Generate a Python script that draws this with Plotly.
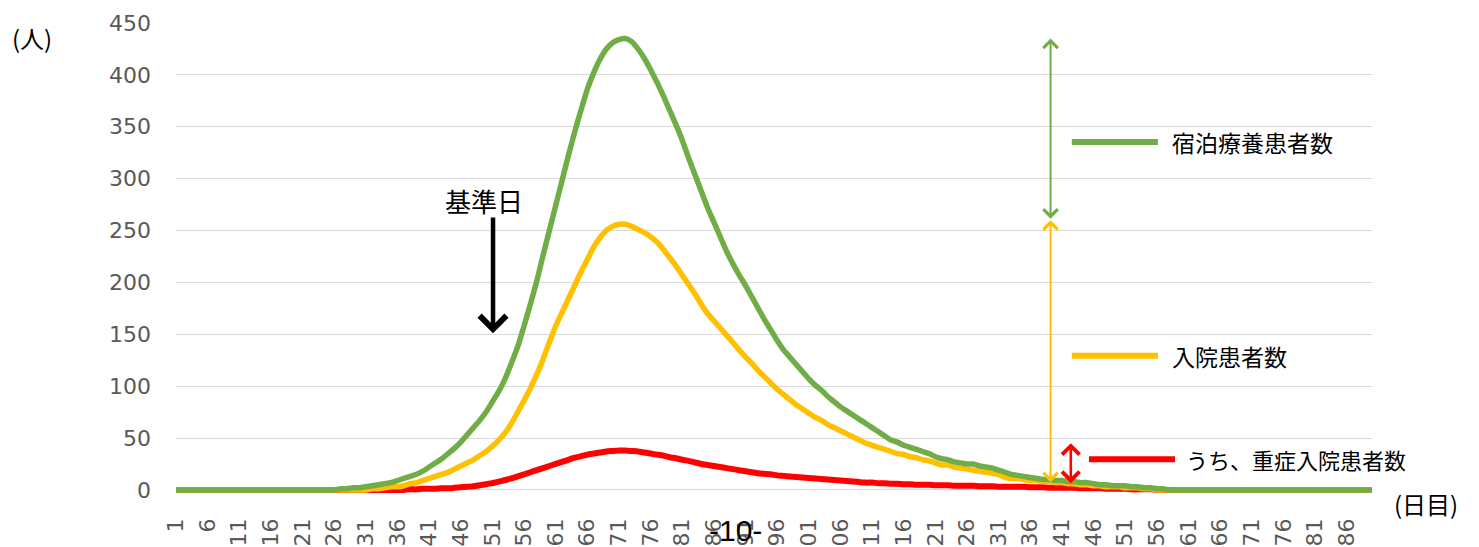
import plotly.graph_objects as go

# Day index (category axis) and labelled ticks every 5 days
days = list(range(1, 191))
tick_days = list(range(1, 190, 5))
y_ticks = list(range(0, 451, 50))

# 宿泊療養患者数 (green line)
lodging = (
    [0] * 26
    + [1, 1, 2, 2, 3, 4, 5, 6, 7, 9, 11, 13, 15, 18]
    + [22, 26, 30, 35, 40, 46, 53, 60, 67, 75]
    + [85, 95, 107, 122, 138, 158, 179, 201, 226, 250]
    + [274, 298, 322, 345, 366, 386, 402, 415, 425, 431]
    + [434, 435, 432, 425, 416, 405, 393, 380, 366, 352]
    + [337, 320, 304, 288, 272, 258, 244, 230, 218, 207]
    + [197, 186, 175, 164, 154, 144, 135, 128, 121, 114]
    + [107, 101, 96, 90, 85, 80, 76, 72, 68, 64]
    + [60, 56, 52, 48, 46, 43, 41, 39, 37, 35]
    + [32, 30, 29, 27, 26, 25, 25, 23, 22, 21]
    + [19, 17, 15, 14, 13, 12, 11, 10, 10, 9]
    + [9, 8, 8, 7, 7, 6, 5, 5, 4, 4]
    + [4, 3, 3, 2, 2, 1, 1, 0, 0, 0]
    + [0] * 30
)

# 入院患者数 (yellow line)
inpatient = (
    [0] * 31
    + [1, 1, 2, 3, 3, 4, 6, 7, 9]
    + [11, 13, 15, 17, 20, 23, 26, 29, 33, 37]
    + [42, 48, 55, 64, 75, 86, 98, 111, 126, 142]
    + [158, 171, 184, 197, 210, 222, 234, 243, 250, 254]
    + [256, 256, 254, 251, 248, 244, 239, 232, 224, 216]
    + [207, 198, 189, 179, 170, 163, 156, 149, 142, 135]
    + [128, 122, 115, 109, 103, 97, 92, 87, 82, 78]
    + [74, 70, 67, 63, 60, 57, 54, 51, 48, 45]
    + [43, 41, 39, 37, 35, 34, 32, 31, 29, 28]
    + [26, 24, 24, 22, 21, 20, 19, 18, 17, 16]
    + [15, 12, 11, 11, 10, 9, 9, 8, 8, 7]
    + [7, 6, 6, 5, 5, 4, 4, 3, 3, 3]
    + [2, 2, 2, 1, 1, 0, 0, 0, 0, 0]
    + [0] * 30
)

# うち、重症入院患者数 (red line)
severe = (
    [0] * 37
    + [0.5, 0.5, 1]
    + [1, 1, 1.5, 1.5, 2, 2.5, 3, 3.5, 4.5, 5.5]
    + [6.5, 8, 9.5, 11, 13, 15, 17, 19, 21, 23]
    + [25, 27, 29, 31, 32.5, 34, 35, 36, 37, 37.5]
    + [38, 38, 37.5, 37, 36, 35, 34, 33, 31.5, 30.5]
    + [29, 28, 26.5, 25, 24, 23, 22, 21, 20, 19]
    + [18, 17, 16, 15.5, 15, 14, 13.5, 13, 12.5, 12]
    + [11.5, 11, 10.5, 10, 9.5, 9, 8.5, 8, 7.5, 7]
    + [7, 6.5, 6.5, 6, 6, 5.5, 5.5, 5, 5, 5]
    + [4.5, 4.5, 4.5, 4, 4, 4, 4, 3.5, 3.5, 3.5]
    + [3, 3, 3, 3, 3, 2.5, 2.5, 2.5, 2, 2]
    + [2, 2, 2, 1.5, 1.5, 1.5, 1.5, 1, 1, 1]
    + [1, 0.5, 0.5, 0.5, 0.5, 0, 0, 0, 0, 0]
    + [0] * 30
)

series_names = ["宿泊療養患者数", "入院患者数", "うち、重症入院患者数"]
GREEN, YELLOW, RED = "#70AD47", "#FFC000", "#FF0000"

JP = "Noto Sans CJK JP"
NUM = "DejaVu Sans"

fig = go.Figure()
for vals, col, name, w in [
    (severe, RED, series_names[2], 6),
    (inpatient, YELLOW, series_names[1], 5.5),
    (lodging, GREEN, series_names[0], 5.5),
]:
    fig.add_trace(go.Scatter(
        x=days, y=vals, mode="lines", name=name,
        line=dict(color=col, width=w, shape="spline", smoothing=0.5),
        hoverinfo="skip",
    ))

# Bracket arrows showing each group's size at the peak
arrow_day = 139.2
severe_arrow_day = 142.4
annotations = []


def bracket(x, y_top, y_bottom, color, width, size):
    return dict(
        x=x, y=y_top, ax=x, ay=y_bottom, xref="x", yref="y", axref="x", ayref="y",
        text="", showarrow=True, arrowside="end+start",
        arrowhead=4, startarrowhead=4, arrowwidth=width, arrowsize=size,
        startarrowsize=size, arrowcolor=color, standoff=0, startstandoff=0,
    )


annotations.append(bracket(arrow_day, max(lodging), max(inpatient) + 4, GREEN, 2, 1.4))
annotations.append(bracket(arrow_day, max(inpatient) + 4, 6, YELLOW, 2, 1.4))
annotations.append(bracket(severe_arrow_day, 45, 5, RED, 2.6, 1.3))

# Reference-day marker
annotations.append(dict(
    x=51.1, y=151, ax=51.1, ay=264, xref="x", yref="y", axref="x", ayref="y",
    text="", showarrow=True, arrowhead=4, arrowwidth=4.5, arrowsize=1.15,
    arrowcolor="#000000", standoff=0,
))
annotations.append(dict(
    x=0.2575, y=0.623, xref="paper", yref="paper", text="基準日", showarrow=False,
    font=dict(family=JP, size=26, color="#000000"), xanchor="center", yanchor="middle",
))

# Legend drawn next to the arrows
legend_rows = [
    (series_names[0], GREEN, 0.749, 0.821, 0.831, 0.747, 23),
    (series_names[1], YELLOW, 0.749, 0.821, 0.831, 0.292, 23),
    (series_names[2], RED, 0.7634, 0.8353, 0.843, 0.072, 22),
]
shapes = []
for name, col, x0, x1, xt, yy, fs in legend_rows:
    shapes.append(dict(type="line", xref="paper", yref="paper", x0=x0, x1=x1, y0=yy, y1=yy,
                       line=dict(color=col, width=6)))
    annotations.append(dict(x=xt, y=yy, xref="paper", yref="paper", text=name, showarrow=False,
                            xanchor="left", yanchor="middle",
                            font=dict(family=JP, size=fs, color="#000000")))

# Axis unit labels
annotations.append(dict(x=-0.1204, y=0.970, xref="paper", yref="paper", text="(人)",
                        showarrow=False, xanchor="center", yanchor="middle",
                        font=dict(family=JP, size=24, color="#000000")))
annotations.append(dict(x=1.0168, y=-0.0213, xref="paper", yref="paper", text="(日目)",
                        showarrow=False, xanchor="left", yanchor="middle",
                        font=dict(family=JP, size=24, color="#000000")))
# Page number
annotations.append(dict(x=0.4674, y=-0.0806, xref="paper", yref="paper", text="-10-",
                        showarrow=False, xanchor="center", yanchor="middle",
                        font=dict(family="Liberation Sans", size=30, color="#000000")))

fig.update_layout(
    width=1479, height=547,
    margin=dict(l=176, r=107, t=23, b=54, autoexpand=False),
    paper_bgcolor="#FFFFFF", plot_bgcolor="#FFFFFF",
    showlegend=False, hovermode=False,
    annotations=annotations, shapes=shapes,
    xaxis=dict(
        range=[1, 190], tickmode="array", tickvals=tick_days,
        ticktext=[str(d) for d in tick_days], tickangle=-90,
        showgrid=False, zeroline=False, showline=False, ticks="",
        ticklabelstandoff=20, automargin=False,
        tickfont=dict(family=NUM, size=22, color="#595959"),
    ),
    yaxis=dict(
        range=[-3, 450], tickmode="array", tickvals=y_ticks,
        showgrid=True, gridcolor="#D9D9D9", gridwidth=1.3,
        zeroline=True, zerolinecolor="#D9D9D9", zerolinewidth=1.3,
        showline=False, ticks="", ticklabelstandoff=24, automargin=False,
        tickfont=dict(family=NUM, size=22, color="#595959"),
    ),
)

fig.write_html("out.html", config={"displayModeBar": False})
